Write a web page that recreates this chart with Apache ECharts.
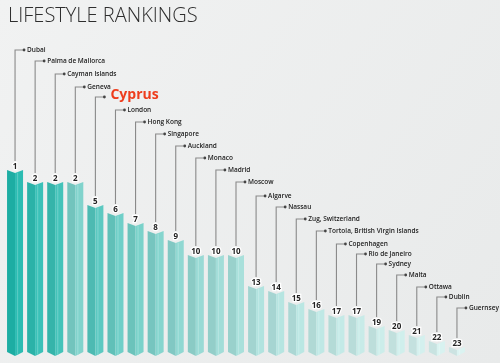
<!DOCTYPE html>
<html>
<head>
<meta charset="utf-8">
<script src="https://cdn.jsdelivr.net/npm/echarts@6/dist/echarts.min.js"></script>
<style>
html,body{margin:0;padding:0;}
#c{width:500px;height:363px;}
</style>
</head>
<body>
<div id="c"></div>
<script>
// ---- data ----
const cities = ['Dubai','Palma de Mallorca','Cayman Islands','Geneva','Cyprus','London','Hong Kong','Singapore','Auckland','Monaco','Madrid','Moscow','Algarve','Nassau','Zug, Switzerland','Tortola, British Virgin Islands','Copenhagen','Rio de Janeiro','Sydney','Malta','Ottawa','Dublin','Guernsey'];
const ranks = [1,2,2,2,5,6,7,8,9,10,10,10,13,14,15,16,17,17,19,20,21,22,23];
const scores = [182,170,170,170,147,139,129,121,112,97,97,97,66,61,50,43,37,37,26,22,17,11,5];

// ---- layout / style (not data) ----
const LEADER_Y = [50,61,74,87,97,110,122,134,146,158,170,182,196,207,219,231,244,254,264,275,287,297,308];
const BAR_COLORS = ['#1fb8ad','#2ebdb3','#38bfb5','#79d0c9','#52c6bd','#66ccc4','#72cfc7','#7dd2cb','#89d5cf','#93d8d2','#9cdbd6','#a3ded9','#ace1dd','#b1e3df','#b6e5e1','#bbe7e3','#c0e9e5','#c4eae7','#c9ece9','#cdeeeb','#d1efed','#d5f1ef','#d9f2f0'];
const HIGHLIGHT = 'Cyprus';

function shade(hex, f){
  const n = parseInt(hex.slice(1),16);
  let r=(n>>16)&255,g=(n>>8)&255,b=n&255;
  const t = f<0?0:255, p=Math.abs(f);
  r=Math.round((t-r)*p+r); g=Math.round((t-g)*p+g); b=Math.round((t-b)*p+b);
  return 'rgb('+r+','+g+','+b+')';
}

const chart = echarts.init(document.getElementById('c'));
const data = scores.map((s,i)=>[i,s,ranks[i]]);

chart.setOption({
  backgroundColor: {type:'linear',x:0,y:0,x2:1,y2:1,colorStops:[{offset:0,color:'#f1f2f2'},{offset:1,color:'#e8eaea'}]},
  animation:false,
  title:{text:'LIFESTYLE RANKINGS',left:3,top:1,textStyle:{fontFamily:'Open Sans',fontWeight:300,fontSize:20,color:'#2e2e2e'}},
  grid:{left:5,width:462,top:0,bottom:11,containLabel:false},
  xAxis:{type:'category',data:cities,show:false},
  yAxis:{type:'value',min:0,max:352,show:false},
  series:[{
    type:'custom',
    data:data,
    renderItem:function(params, api){
      const i=api.value(0), v=api.value(1), rk=api.value(2);
      const top=api.coord([i,v]), base=api.coord([i,0]);
      const bw=16, cx=top[0], x0=cx-bw/2, x1=cx+bw/2;
      const ty=top[1], by=base[1];
      const notch=3, tip=4;
      const c=BAR_COLORS[i];
      const ly=LEADER_Y[i];
      const name=cities[i];
      const hl = name===HIGHLIGHT;
      const children=[
        {type:'polygon',shape:{points:[[x0,ty],[cx,ty+notch],[cx,by+tip],[x0,by]]},style:{fill:shade(c,-0.06)}},
        {type:'polygon',shape:{points:[[cx,ty+notch],[x1,ty],[x1,by],[cx,by+tip]]},style:{fill:shade(c,0.06)}},
        {type:'line',shape:{x1:cx+2.5,y1:ty+notch-0.5,x2:cx+2.5,y2:by+tip-1},style:{stroke:shade(c,0.25),lineWidth:1.2}},
        {type:'polyline',shape:{points:[[cx,ty-9],[cx,ly],[cx+8,ly]]},style:{stroke:'#8a8a8a',lineWidth:1.1,fill:null}},
        {type:'circle',shape:{cx:cx+9,cy:ly,r:1.4},style:{fill:'#444'}},
        {type:'text',style:{text:String(rk),x:cx,y:ty-3,align:'center',verticalAlign:'middle',fontFamily:'Open Sans',fontWeight:'bold',fontSize:8,fill:'#222',stroke:'#fff',lineWidth:2.5}},
        {type:'text',style:{text:name,x:cx+(hl?15:12),y:ly-(hl?2:0),align:'left',verticalAlign:'middle',fontFamily:'Open Sans',fontWeight:hl?'bold':600,fontSize:hl?14:6.5,fill:hl?'#ee3d1d':'#222'}}
      ];
      return {type:'group',children:children};
    }
  }]
});
</script>
</body>
</html>
